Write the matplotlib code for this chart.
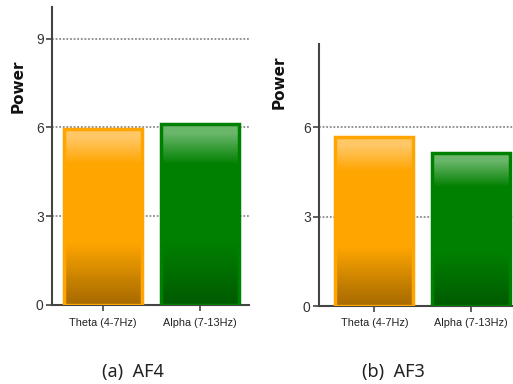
import numpy as np
import matplotlib.pyplot as plt
from matplotlib.colors import to_rgb

plt.rcParams['font.family'] = ['Liberation Sans', 'DejaVu Sans']

bands = ['Theta (4-7Hz)', 'Alpha (7-13Hz)']
af4_power = [5.96, 6.11]
af3_power = [5.67, 5.13]
captions = ['(a)  AF4', '(b)  AF3']

# colour stops (fraction of bar height from bottom, colour)
orange_stops = [(0.0, '#a86a00'), (0.12, '#c27e00'), (0.35, '#ffa500'),
                (0.80, '#ffa500'), (0.95, '#ffc766'), (1.0, '#ffc766')]
green_stops = [(0.0, '#005a00'), (0.12, '#006800'), (0.35, '#008000'),
               (0.78, '#008000'), (0.95, '#6ab66a'), (1.0, '#6ab66a')]
edge_colors = ['#ffa500', '#008000']


def gradient(stops, n=200):
    t = np.linspace(0, 1, n)
    pos = [s[0] for s in stops]
    cols = np.array([to_rgb(s[1]) for s in stops])
    rgb = np.stack([np.interp(t, pos, cols[:, k]) for k in range(3)], axis=1)
    return rgb[::-1].reshape(n, 1, 3)


def draw_panel(ax, values, ymax, yticks, xlim, width):
    x = np.arange(len(values))
    for xi, v, stops, ec in zip(x, values, [orange_stops, green_stops], edge_colors):
        ax.imshow(gradient(stops), extent=[xi - width / 2, xi + width / 2, 0, v],
                  aspect='auto', interpolation='bilinear', zorder=2)
        ax.bar(xi, v, width, color='none', edgecolor=ec, linewidth=2.5, zorder=3)
    ax.set_xlim(*xlim)
    ax.set_ylim(0, ymax)
    ax.set_xticks(x)
    ax.set_xticklabels(bands, fontsize=7.8, color='#222222')
    ax.set_yticks(yticks)
    ax.set_yticklabels([str(t) for t in yticks], fontsize=10, color='#333333')
    ax.yaxis.grid(True, color='#8a8a8a', linestyle=(0, (1, 1)), linewidth=1.3, zorder=1)
    ax.set_axisbelow(True)
    for s in ['top', 'right']:
        ax.spines[s].set_visible(False)
    for s in ['left', 'bottom']:
        ax.spines[s].set_color('#444444')
        ax.spines[s].set_linewidth(1.5)
    ax.tick_params(axis='both', direction='out', length=4, width=1.2, color='#444444', pad=2)
    ax.tick_params(axis='x', pad=5)


fig = plt.figure(figsize=(5.13, 3.84), dpi=100)
W, H = 513, 384

ax1 = fig.add_axes([52 / W, (H - 305) / H, (249 - 52) / W, (305 - 7) / H])
draw_panel(ax1, af4_power, 10.07, [0, 3, 6, 9], (-0.53, 1.51), 0.81)

ax2 = fig.add_axes([319 / W, (H - 306) / H, (513 - 319) / W, (306 - 44) / H])
draw_panel(ax2, af3_power, 8.8, [0, 3, 6], (-0.57, 1.43), 0.80)

fig.text(18 / W, 1 - 86 / H, 'Power', rotation=90, ha='center', va='center',
         fontsize=11, fontweight='bold', family='DejaVu Sans', color='#111111')
fig.text(279 / W, 1 - 82 / H, 'Power', rotation=90, ha='center', va='center',
         fontsize=11, fontweight='bold', family='DejaVu Sans', color='#111111')

fig.text(133 / W, 1 - 372 / H, captions[0], ha='center', va='center',
         fontsize=13, family='Noto Sans', color='#222222')
fig.text(393 / W, 1 - 372 / H, captions[1], ha='center', va='center',
         fontsize=13, family='Noto Sans', color='#222222')

fig.savefig('out.png', dpi=100)
